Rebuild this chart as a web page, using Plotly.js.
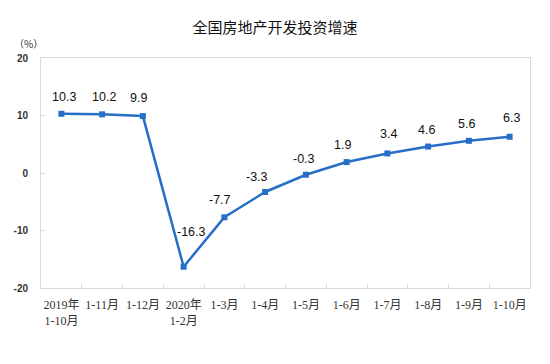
<!DOCTYPE html>
<html>
<head>
<meta charset="utf-8">
<script src="https://cdn.plot.ly/plotly-3.0.1.min.js"></script>
<style>html,body{margin:0;padding:0;background:#fff;}#chart{width:550px;height:364px;}</style>
</head>
<body>
<div id="chart"></div>
<script>
const categories = ["2019年<br>1-10月","1-11月","1-12月","2020年<br>1-2月","1-3月","1-4月","1-5月","1-6月","1-7月","1-8月","1-9月","1-10月"];
const growth = [10.3, 10.2, 9.9, -16.3, -7.7, -3.3, -0.3, 1.9, 3.4, 4.6, 5.6, 6.3];
const yTicks = [-20, -10, 0, 10, 20];

// label offsets (pixels) relative to each point
const labelDx = [3, 2, -4, 8, -4, -8, -2, -4, 1, -2, -2, 2];
const labelDy = [17, 17, 18, 35, 17, 15, 16, 17, 19, 17, 17, 19];

const blue = "rgb(38,110,200)";
const trace = {
  x: categories,
  y: growth,
  type: "scatter",
  mode: "lines+markers",
  line: {color: blue, width: 2.5},
  marker: {color: blue, symbol: "square", size: 6},
  hoverinfo: "skip"
};

const annotations = growth.map((v, i) => ({
  x: categories[i], y: v, xref: "x", yref: "y",
  text: v.toFixed(1), showarrow: false,
  xanchor: "center", yanchor: "middle",
  xshift: labelDx[i], yshift: labelDy[i],
  font: {family: "Liberation Sans, Arial, sans-serif", size: 12.5, color: "#111"}
}));
annotations.push({
  xref: "paper", yref: "paper", x: -0.025, y: 1.065, xanchor: "center", yanchor: "middle",
  text: "（%）", showarrow: false,
  font: {family: "Noto Sans CJK SC, sans-serif", size: 10, color: "#333"}
});

const layout = {
  width: 550, height: 364,
  margin: {l: 41, r: 20, t: 58, b: 76},
  paper_bgcolor: "#fff", plot_bgcolor: "#fff",
  showlegend: false,
  title: {
    text: "全国房地产开发投资增速",
    x: 0.5, xanchor: "center", y: 0.925, yanchor: "middle",
    font: {family: "Noto Sans CJK SC, sans-serif", size: 15, color: "#111"}
  },
  xaxis: {
    type: "category",
    showline: true, linecolor: "#d9d9d9", linewidth: 1, mirror: true,
    showgrid: false, zeroline: false,
    ticks: "inside", ticklen: 4, tickcolor: "#d9d9d9", tickson: "boundaries",
    tickangle: 0,
    ticklabelstandoff: 6,
    tickfont: {family: "Liberation Serif, Noto Sans CJK SC, serif", size: 12, color: "#333"},
    range: [-0.5, 11.5]
  },
  yaxis: {
    range: [-20, 20],
    tickvals: yTicks,
    ticktext: yTicks.map(String),
    showline: true, linecolor: "#d9d9d9", linewidth: 1, mirror: true,
    showgrid: false, zeroline: false,
    ticks: "inside", ticklen: 4, tickcolor: "#d9d9d9",
    ticklabelstandoff: 10,
    tickfont: {family: "Liberation Sans, Arial, sans-serif", size: 10, color: "#333", weight: "bold"}
  },
  annotations: annotations
};

Plotly.newPlot("chart", [trace], layout, {displayModeBar: false, staticPlot: true});
</script>
</body>
</html>
